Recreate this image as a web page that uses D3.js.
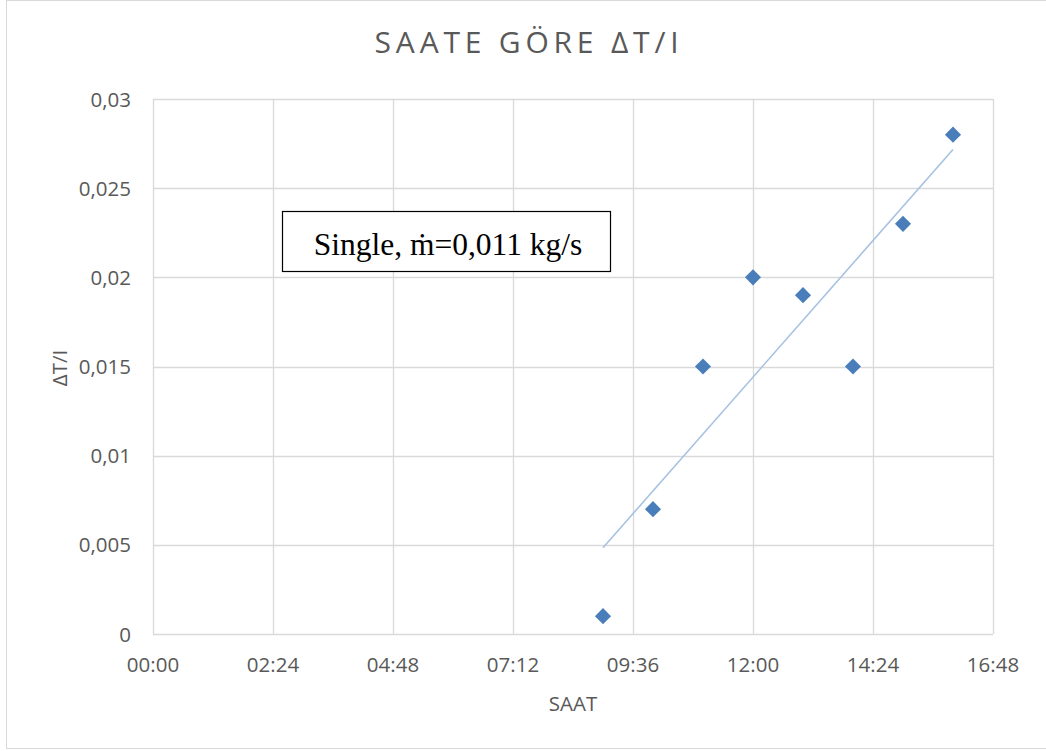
<!DOCTYPE html>
<html>
<head>
<meta charset="utf-8">
<script src="https://cdn.jsdelivr.net/npm/d3@7"></script>
<style>
  body { margin: 0; background: #fff; }
  svg { display: block; }
</style>
</head>
<body>
<div id="chart"></div>
<script>
// hours of the day (decimal) and measured dT/I
const hours = [9, 10, 11, 12, 13, 14, 15, 16];
const dtPerI = [0.001, 0.007, 0.015, 0.02, 0.019, 0.015, 0.023, 0.028];
const xTicks = [0, 2.4, 4.8, 7.2, 9.6, 12, 14.4, 16.8];
const yTicks = [0, 0.005, 0.01, 0.015, 0.02, 0.025, 0.03];

const width = 1046, height = 751;
const margin = {top: 99, right: 53, bottom: 117, left: 153};

const svg = d3.select('#chart').append('svg')
    .attr('width', width)
    .attr('height', height);

svg.append('rect')
    .attr('x', 6.5).attr('y', 0.5)
    .attr('width', width + 10).attr('height', 748)
    .attr('fill', '#fff')
    .attr('stroke', '#d9d9d9');

const x = d3.scaleLinear().domain([0, 16.8]).range([margin.left, width - margin.right]);
const y = d3.scaleLinear().domain([0, 0.03]).range([height - margin.bottom, margin.top]);

const fmtTime = h => {
    const m = Math.round(h * 60);
    return String(Math.floor(m / 60)).padStart(2, '0') + ':' + String(m % 60).padStart(2, '0');
};
const fmtNum = v => v === 0 ? '0' : String(+v.toFixed(3)).replace('.', ',');

// grid
svg.append('g').selectAll('line.h')
    .data(yTicks)
    .enter().append('line')
    .attr('x1', x(0)).attr('x2', x(16.8))
    .attr('y1', d => Math.round(y(d)) + 0.5).attr('y2', d => Math.round(y(d)) + 0.5)
    .attr('stroke', '#d9d9d9').attr('stroke-width', 1.3);

svg.append('g').selectAll('line.v')
    .data(xTicks)
    .enter().append('line')
    .attr('x1', d => Math.round(x(d)) + 0.5).attr('x2', d => Math.round(x(d)) + 0.5)
    .attr('y1', y(0)).attr('y2', y(0.03))
    .attr('stroke', '#d9d9d9').attr('stroke-width', 1.3);

// tick labels
const font = "'Open Sans', 'Noto Sans', sans-serif";
svg.append('g').selectAll('text')
    .data(yTicks)
    .enter().append('text')
    .attr('x', 131)
    .attr('y', d => y(d) + 7.5)
    .attr('text-anchor', 'end')
    .style('font-family', font).style('font-size', '20.5px')
    .style('fill', '#595959')
    .text(fmtNum);

svg.append('g').selectAll('text')
    .data(xTicks)
    .enter().append('text')
    .attr('x', d => x(d))
    .attr('y', 672)
    .attr('text-anchor', 'middle')
    .style('font-family', font).style('font-size', '20.5px')
    .style('fill', '#595959')
    .text(fmtTime);

// titles
svg.append('text')
    .attr('x', 529).attr('y', 53)
    .attr('text-anchor', 'middle')
    .style('font-family', font).style('font-size', '30px')
    .style('letter-spacing', '4.8px')
    .style('fill', '#595959')
    .text('SAATE GÖRE ΔT/I');

svg.append('text')
    .attr('x', 573).attr('y', 711)
    .attr('text-anchor', 'middle')
    .style('font-family', font).style('font-size', '20.5px')
    .style('fill', '#595959')
    .text('SAAT');

svg.append('text')
    .attr('transform', 'translate(67, 368) rotate(-90)')
    .attr('text-anchor', 'middle')
    .style('font-family', font).style('font-size', '20.5px')
    .style('fill', '#595959')
    .text('ΔT/I');

// linear trendline from least squares
const mx = d3.mean(hours), my = d3.mean(dtPerI);
const slope = d3.sum(hours, (h, i) => (h - mx) * (dtPerI[i] - my)) / d3.sum(hours, h => (h - mx) ** 2);
const icpt = my - slope * mx;
const ends = d3.extent(hours);
svg.append('line')
    .attr('x1', x(ends[0])).attr('y1', y(icpt + slope * ends[0]))
    .attr('x2', x(ends[1])).attr('y2', y(icpt + slope * ends[1]))
    .attr('stroke', '#a7c1e2').attr('stroke-width', 1.6);

// markers
const diamond = d3.symbol().type(d3.symbolDiamond2).size(165);
svg.append('g').selectAll('path')
    .data(hours)
    .enter().append('path')
    .attr('d', diamond)
    .attr('transform', (d, i) => `translate(${x(d)}, ${y(dtPerI[i])})`)
    .attr('fill', '#4a7ebb');

// annotation box
svg.append('rect')
    .attr('x', 282.5).attr('y', 211.5)
    .attr('width', 328).attr('height', 60)
    .attr('fill', '#fff')
    .attr('stroke', '#000').attr('stroke-width', 1.2);

svg.append('text')
    .attr('x', 448).attr('y', 255)
    .attr('text-anchor', 'middle')
    .style('font-family', "'Liberation Serif', 'Times New Roman', serif")
    .style('font-size', '31.5px')
    .style('fill', '#000')
    .text('Single, ṁ=0,011 kg/s');
</script>
</body>
</html>
